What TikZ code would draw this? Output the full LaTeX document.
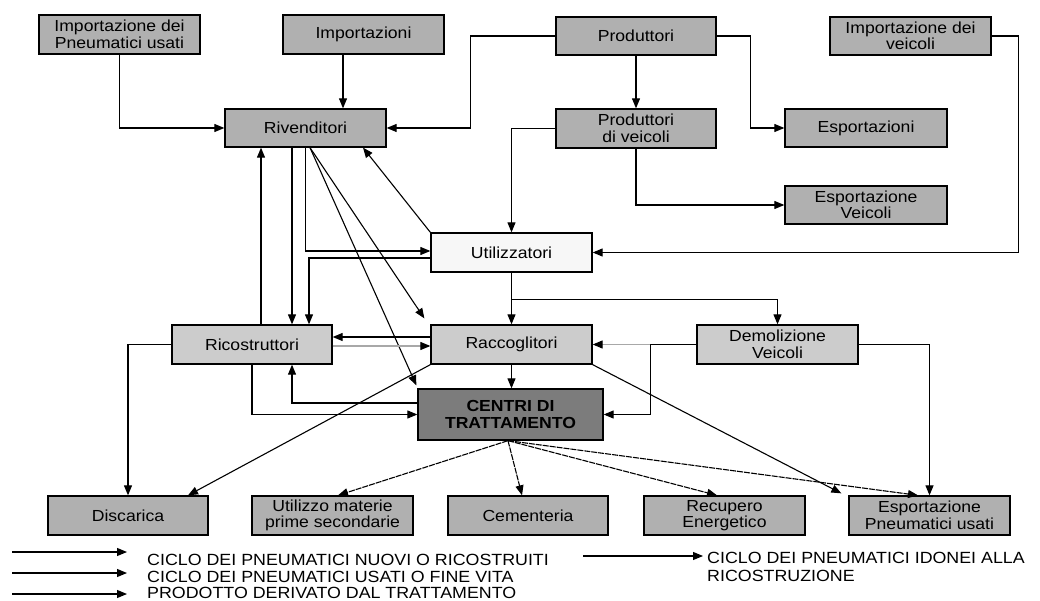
\documentclass[tikz,border=0pt]{standalone}
\usepackage{fontspec}
\setmainfont{Liberation Sans}[FakeStretch=1.1]
\usetikzlibrary{arrows.meta}
\definecolor{boxmid}{HTML}{B0B0B0}
\definecolor{boxlight}{HTML}{CCCCCC}
\definecolor{boxdark}{HTML}{7C7C7C}
\definecolor{boxwhite}{HTML}{F7F7F7}
\definecolor{greyline}{HTML}{A8A8A8}
\tikzset{
  box/.style={draw=black, line width=1.3pt, rectangle, inner sep=0pt, align=center,
    minimum width=161pt, minimum height=39pt, font=\fontsize{16}{16.5}\selectfont},
  midbox/.style={box, fill=boxmid},
  lightbox/.style={box, fill=boxlight},
  whitebox/.style={box, fill=boxwhite},
  darkbox/.style={box, fill=boxdark, minimum width=185pt, minimum height=51pt,
    font=\fontsize{16}{17}\selectfont\bfseries},
  arr/.style={draw=black, line width=1.1pt, -{Triangle[length=10pt,width=8pt]}},
  plain/.style={draw=black, line width=1.1pt},
  greyarr/.style={draw=greyline, line width=1.1pt, -{Triangle[length=10pt,width=8pt,fill=black,color=black]}},
  prodarr/.style={arr, dash pattern=on 6pt off 1pt},
  legend/.style={anchor=base west, inner sep=0pt, font=\fontsize{16.2}{17}\selectfont}
}
\begin{document}
\begin{tikzpicture}[x=1pt, y=-1pt]
\useasboundingbox (0,0) rectangle (1040,601);
% top row
\node[midbox] (impPU) at (119.5,34.5) {Importazione dei\\Pneumatici usati};
\node[midbox] (imp) at (363.5,34.5) {Importazioni};
\node[midbox, minimum width=160pt, minimum height=38pt] (prod) at (636,36) {Produttori};
\node[midbox, minimum height=38pt] (impV) at (910.5,36) {Importazione dei\\veicoli};
% second row
\node[midbox, minimum height=38pt] (riv) at (305.5,128) {Rivenditori};
\node[midbox, minimum width=160pt] (prodV) at (636,128.5) {Produttori\\di veicoli};
\node[midbox, minimum width=162pt, minimum height=38pt] (esp) at (866,128) {Esportazioni};
\node[midbox, minimum width=162pt, minimum height=38pt] (espV) at (866,205) {Esportazione\\Veicoli};
% middle
\node[whitebox] (util) at (511.5,252.5) {Utilizzatori};
\node[lightbox, minimum width=160pt] (ric) at (252,344.5) {Ricostruttori};
\node[lightbox] (racc) at (511.5,344.5) {Raccoglitori};
\node[lightbox] (dem) at (777.5,344.5) {Demolizione\\Veicoli};
\node[darkbox] (centri) at (510.5,414.5) {CENTRI DI\\TRATTAMENTO};
% bottom row
\node[midbox, minimum width=160pt] (disc) at (128,515.5) {Discarica};
\node[midbox] (utMat) at (332.5,515.5) {Utilizzo materie\\prime secondarie};
\node[midbox, minimum width=160pt] (cem) at (528,515.5) {Cementeria};
\node[midbox] (rec) at (724.5,515.5) {Recupero\\Energetico};
\node[midbox] (espPU) at (929.5,515.5) {Esportazione\\Pneumatici usati};

% connectors
\draw[arr] (impPU.south) |- (riv.west);
\draw[arr] ([xshift=-20.5pt]imp.south) -- ([xshift=37.5pt]riv.north);
\draw[arr] (prod.west) -- ++(-85,0) |- (riv.east);
\draw[arr] (prod.south) -- (prodV.north);
\draw[arr] (prod.east) -- ++(34,0) |- (esp.west);
\draw[arr] (prodV.west) -| (util.north);
\draw[arr] (prodV.south) |- (espV.west);
\draw[arr] (impV.east) -- ++(27,0) |- (util.east);
\draw[arr] (util.north west) -- ([xshift=57.5pt]riv.south);
\draw[arr] (riv.south) |- ([yshift=1.5pt]util.west);
\draw[arr] ([yshift=-5.5pt]util.west) -| ([xshift=57pt]ric.north);
\draw[arr] ([xshift=-13.5pt]riv.south) -- ([xshift=40pt]ric.north);
\draw[arr] ([xshift=9pt]ric.north) -- ([xshift=-44.5pt]riv.south);
\draw[arr] ([xshift=4.5pt]riv.south) -- ([xshift=-6pt,yshift=6pt]racc.north west);
\draw[arr] ([xshift=4.5pt]riv.south) -- ([xshift=-1pt,yshift=3pt]centri.north west);
\draw[arr] ([yshift=7.5pt]racc.west) -- ([yshift=7.5pt]ric.east);
\draw[greyarr] ([yshift=-1.5pt]ric.east) -- ([yshift=-1.5pt]racc.west);
\draw[arr] (util.south) -- (racc.north);
\coordinate (ub) at ([yshift=-26.5pt]util.south);
\draw[arr] (ub) -| (dem.north);
\draw[arr] (racc.south) -- (racc.south |- centri.north);
\draw[arr] (ric.west) -| (disc.north);
\draw[arr] (ric.south) |- (centri.west);
\draw[arr] ([yshift=11.5pt]centri.west) -| ([xshift=40pt]ric.south);
\draw[arr] (racc.south west) -- ([xshift=60pt]disc.north);
\draw[arr] (racc.south east) -- ([xshift=-7pt,yshift=2pt]espPU.north west);
\draw[arr] (dem.east) -| (espPU.north);
\coordinate (dj) at ([xshift=-46pt]dem.west);
\draw[plain] (dem.west) -- (dj);
\draw[greyarr] (dj) -- (racc.east);
\draw[arr] (dj) |- (centri.east);
\coordinate (co) at ([xshift=-2.5pt]centri.south);
\draw[prodarr] (co) -- ([xshift=5.5pt]utMat.north);
\draw[prodarr] (co) -- ([xshift=-6pt]cem.north);
\draw[prodarr] (co) -- ([xshift=-7.5pt]rec.north);
\draw[prodarr] (co) -- ([xshift=-11.5pt]espPU.north);

% legend
\coordinate (l1a) at (12,552); \coordinate (l1b) at (127,552);
\coordinate (l2a) at (12,573); \coordinate (l2b) at (127,573);
\coordinate (l3a) at (12,594); \coordinate (l3b) at (127,594);
\coordinate (l4a) at (583,556); \coordinate (l4b) at (703,556);
\draw[arr] (l1a) -- (l1b);
\draw[arr] (l2a) -- (l2b);
\draw[arr] (l3a) -- (l3b);
\draw[arr] (l4a) -- (l4b);
\node[legend] (t1) at (147,565) {CICLO DEI PNEUMATICI NUOVI O RICOSTRUITI};
\node[legend] (t2) at (147,582) {CICLO DEI PNEUMATICI USATI O FINE VITA};
\node[legend] (t3) at (147,598) {PRODOTTO DERIVATO DAL TRATTAMENTO};
\node[legend] (t4) at (707,563) {CICLO DEI PNEUMATICI IDONEI ALLA};
\node[legend] (t5) at (707,581) {RICOSTRUZIONE};
\end{tikzpicture}
\end{document}
